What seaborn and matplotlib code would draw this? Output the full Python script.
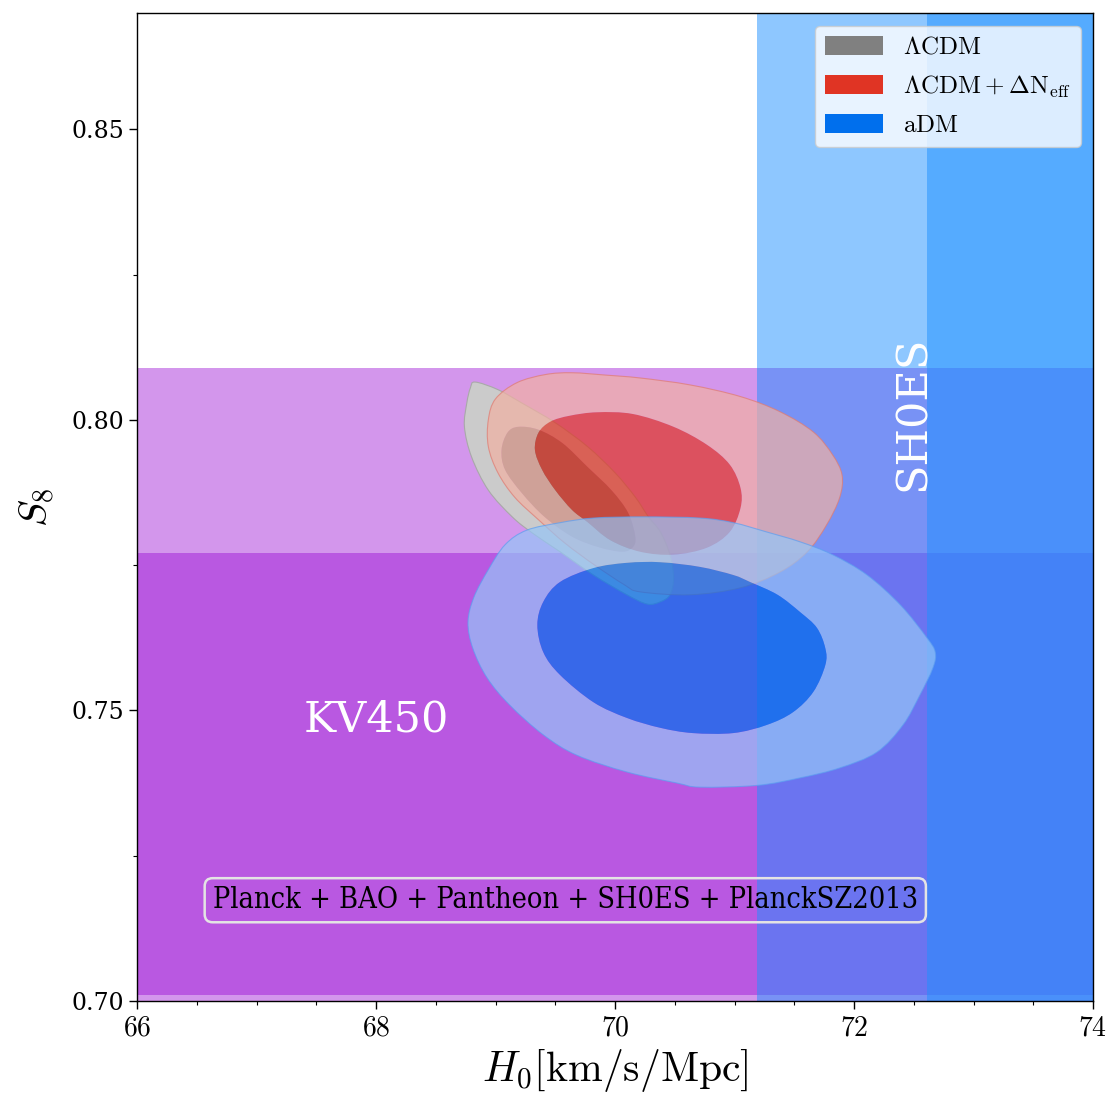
import numpy as np
import matplotlib
matplotlib.use("Agg")
import matplotlib.pyplot as plt
from matplotlib.path import Path
from matplotlib.patches import PathPatch, Patch
import seaborn as sns

sns.set_theme(style="ticks")
plt.rcParams["font.family"] = ["DejaVu Serif"]
plt.rcParams["mathtext.fontset"] = "cm"
plt.rcParams["text.color"] = "black"
plt.rcParams["axes.labelcolor"] = "black"
plt.rcParams["xtick.color"] = "black"
plt.rcParams["ytick.color"] = "black"

# -----------------------------------------------------------------------------
# Data: external priors (1 and 2 sigma ranges)
# -----------------------------------------------------------------------------
kv450_s8_1sig = (0.701, 0.777)
kv450_s8_2sig = (0.665, 0.809)
shoes_h0_1sig = (72.61, 75.45)
shoes_h0_2sig = (71.19, 76.87)

# -----------------------------------------------------------------------------
# Data: 68% / 95% contour outlines (H0, S8)
# -----------------------------------------------------------------------------
lcdm_95_h0 = [68.83, 69.02, 69.22, 69.50, 69.77, 70.00, 70.17, 70.28, 70.38, 70.46,
              70.49, 70.46, 70.38, 70.27, 70.10, 69.82, 69.54, 69.31, 69.14, 68.94,
              68.80, 68.74, 68.76, 68.79]
lcdm_95_s8 = [0.8065, 0.8052, 0.8029, 0.7995, 0.7954, 0.7909, 0.7867, 0.7833, 0.7807, 0.7768,
              0.7728, 0.7699, 0.7687, 0.7683, 0.7699, 0.7733, 0.7773, 0.7805, 0.7833, 0.7879,
              0.7936, 0.7988, 0.8029, 0.8055]
lcdm_68_h0 = [69.19, 69.36, 69.56, 69.77, 69.97, 70.11, 70.17, 70.15, 70.06, 69.86,
              69.64, 69.41, 69.22, 69.08, 69.05, 69.10]
lcdm_68_s8 = [0.7988, 0.7983, 0.7960, 0.7919, 0.7879, 0.7840, 0.7799, 0.7781, 0.7773, 0.7781,
              0.7799, 0.7833, 0.7874, 0.7914, 0.7948, 0.7978]

neff_95_h0 = [69.64, 69.92, 70.21, 70.63, 71.05, 71.38, 71.66, 71.82, 71.90, 71.88,
              71.77, 71.61, 71.38, 71.05, 70.63, 70.21, 70.08, 69.83, 69.58, 69.36,
              69.16, 69.02, 68.94, 68.94, 69.00, 69.18, 69.42]
neff_95_s8 = [0.8081, 0.8077, 0.8072, 0.8060, 0.8040, 0.8014, 0.7979, 0.7940, 0.7905, 0.7866,
              0.7819, 0.7773, 0.7738, 0.7711, 0.7699, 0.7704, 0.7716, 0.7750, 0.7788, 0.7828,
              0.7867, 0.7909, 0.7954, 0.8000, 0.8036, 0.8064, 0.8078]
neff_68_h0 = [69.62, 69.85, 70.15, 70.49, 70.77, 70.96, 71.05, 71.05, 70.96, 70.77,
              70.49, 70.21, 69.96, 69.77, 69.64, 69.50, 69.39, 69.33, 69.36, 69.46]
neff_68_s8 = [0.8007, 0.8013, 0.8010, 0.7988, 0.7957, 0.7923, 0.7883, 0.7848, 0.7807, 0.7780,
              0.7768, 0.7773, 0.7793, 0.7824, 0.7845, 0.7879, 0.7914, 0.7948, 0.7978, 0.7997]

adm_95_h0 = [69.82, 69.54, 69.26, 69.08, 68.94, 68.82, 68.77, 68.81, 68.93, 69.12,
             69.40, 69.68, 70.10, 70.52, 70.71, 71.19, 71.55, 71.88, 72.19, 72.41,
             72.55, 72.66, 72.68, 72.61, 72.39, 72.11, 71.82, 71.55, 71.27, 70.99,
             70.71, 70.23]
adm_95_s8 = [0.7831, 0.7823, 0.7810, 0.7785, 0.7742, 0.7695, 0.7652, 0.7607, 0.7556, 0.7509,
             0.7458, 0.7423, 0.7394, 0.7375, 0.7368, 0.7371, 0.7384, 0.7401, 0.7428, 0.7475,
             0.7526, 0.7573, 0.7600, 0.7625, 0.7681, 0.7733, 0.7768, 0.7790, 0.7807, 0.7823,
             0.7831, 0.7833]
adm_68_h0 = [70.38, 70.10, 69.82, 69.54, 69.40, 69.35, 69.40, 69.54, 69.82, 70.10,
             70.38, 70.65, 70.99, 71.27, 71.49, 71.66, 71.76, 71.76, 71.69, 71.55,
             71.36, 71.13, 70.99, 70.71]
adm_68_s8 = [0.7755, 0.7754, 0.7745, 0.7721, 0.7687, 0.7647, 0.7600, 0.7561, 0.7514, 0.7487,
             0.7470, 0.7461, 0.7461, 0.7475, 0.7497, 0.7532, 0.7578, 0.7607, 0.7642, 0.7669,
             0.7699, 0.7721, 0.7733, 0.7747]

model_labels = [r"$\Lambda\mathrm{CDM}$",
                r"$\Lambda\mathrm{CDM} + \Delta\mathrm{N}_{\mathrm{eff}}$",
                r"$\mathrm{aDM}$"]
model_colors = ["gray", "#E03424", "#006FED"]


def smooth_ring(xs, ys, reverse=False):
    """Closed Catmull-Rom outline through the points, as Bezier path pieces."""
    pts = np.column_stack([xs, ys])
    area = 0.5 * np.sum(pts[:, 0] * np.roll(pts[:, 1], -1) - np.roll(pts[:, 0], -1) * pts[:, 1])
    if (area > 0) == reverse:
        pts = pts[::-1]
    n = len(pts)
    verts = [pts[0]]
    codes = [Path.MOVETO]
    for i in range(n):
        p0, p1, p2, p3 = pts[i - 1], pts[i], pts[(i + 1) % n], pts[(i + 2) % n]
        verts += [p1 + (p2 - p0) / 6, p2 - (p3 - p1) / 6, p2]
        codes += [Path.CURVE4] * 3
    verts.append(pts[0])
    codes.append(Path.CLOSEPOLY)
    return verts, codes


def add_contours(ax, out_x, out_y, in_x, in_y, c_out, c_in, alpha, edge):
    ov, oc = smooth_ring(out_x, out_y)
    iv, ic = smooth_ring(in_x, in_y, reverse=True)
    ax.add_patch(PathPatch(Path(ov + iv, oc + ic), facecolor=c_out, edgecolor="none",
                           alpha=alpha, zorder=3))
    ax.add_patch(PathPatch(Path(ov, oc), facecolor="none", edgecolor=edge, lw=0.8,
                           alpha=alpha, zorder=3))
    iv, ic = smooth_ring(in_x, in_y)
    ax.add_patch(PathPatch(Path(iv, ic), facecolor=c_in, edgecolor="none",
                           alpha=alpha, zorder=3))


fig = plt.figure(figsize=(11.14, 10.96), dpi=100)
ax = fig.add_axes([137 / 1114, 1 - 1001 / 1096, 956 / 1114, 988 / 1096])

# KV450 and SH0ES bands
for lo, hi in (kv450_s8_2sig, kv450_s8_1sig):
    ax.axhspan(lo, hi, color="darkviolet", alpha=0.41, lw=0, zorder=1)
for lo, hi in (shoes_h0_2sig, shoes_h0_1sig):
    ax.axvspan(lo, hi, color="dodgerblue", alpha=0.5, lw=0, zorder=2)

add_contours(ax, lcdm_95_h0, lcdm_95_s8, lcdm_68_h0, lcdm_68_s8,
             "#cbcbcb", "#808080", 1.0, "#a9a9a9")
add_contours(ax, neff_95_h0, neff_95_s8, neff_68_h0, neff_68_s8,
             "#f1b0a3", "#E03424", 0.7, "#e07a70")
add_contours(ax, adm_95_h0, adm_95_s8, adm_68_h0, adm_68_s8,
             "#95c5f7", "#006FED", 0.7, "#5d9ef0")

ax.text(68.0, 0.7484, "KV450", color="white", fontsize=31, ha="center", va="center", zorder=5)
ax.text(72.49, 0.8012, "SH0ES", color="white", fontsize=31, rotation=90,
        ha="center", va="center", zorder=5)
ax.text(0.448, 0.102, "Planck + BAO + Pantheon + SH0ES + PlanckSZ2013",
        transform=ax.transAxes, fontsize=20.7, ha="center", va="center", color="black",
        fontstretch="condensed", zorder=6,
        bbox=dict(boxstyle="round,pad=0.28", facecolor="none", edgecolor="#e4e4e4", lw=1.8))

handles = [Patch(facecolor=c, edgecolor="none") for c in model_colors]
leg = ax.legend(handles, model_labels, loc="upper right", fontsize=18,
                handlelength=2.3, handleheight=0.8, labelspacing=0.58,
                framealpha=0.8, fancybox=True)
leg.set_zorder(10)

ax.set_xlim(66, 74)
ax.set_ylim(0.70, 0.87)
ax.set_xticks([66, 68, 70, 72, 74])
ax.set_xticklabels([f"${v}$" for v in [66, 68, 70, 72, 74]], fontsize=20)
ax.set_yticks([0.70, 0.75, 0.80, 0.85])
ax.set_yticklabels(["0.70", "0.75", "0.80", "0.85"], fontsize=17)
ax.set_xticks(np.arange(66, 74.01, 0.5), minor=True)
ax.set_yticks([0.725, 0.775, 0.825], minor=True)
ax.tick_params(which="major", direction="out", length=6, width=1, color="black")
ax.tick_params(which="minor", direction="out", length=3, width=0.8, color="black")
for s in ax.spines.values():
    s.set_color("black")
    s.set_linewidth(1)
ax.set_xlabel(r"$H_0[\mathrm{km/s/Mpc}]$", fontsize=30, labelpad=4)
ax.set_ylabel(r"$S_8$", fontsize=29, labelpad=10)

fig.savefig("out.png", dpi=100)
